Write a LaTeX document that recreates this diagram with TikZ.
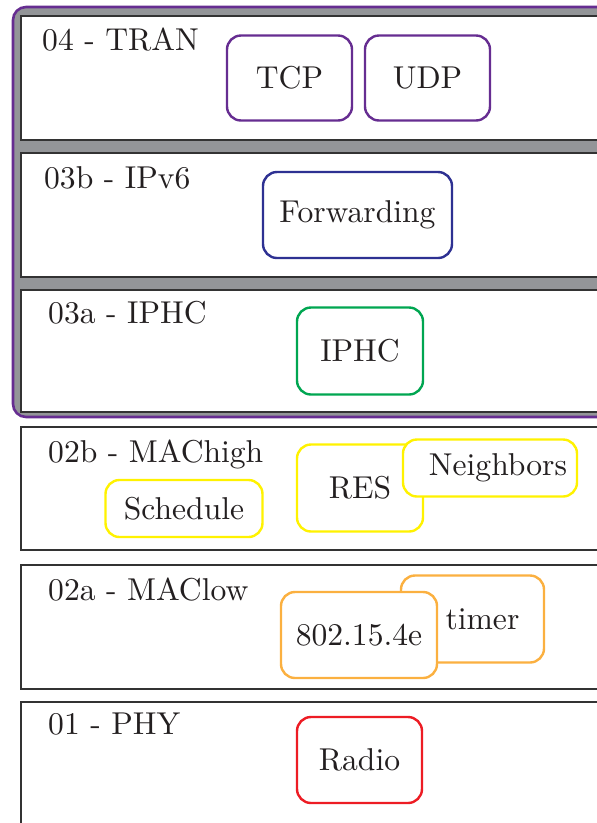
\documentclass[tikz,border=0pt]{standalone}
\usepackage{fontspec}
\setmainfont{lmroman10-regular}[Extension=.otf]
\definecolor{cpurple}{HTML}{662D91}
\definecolor{cblue}{HTML}{2E3192}
\definecolor{cgreen}{HTML}{00A651}
\definecolor{cyellow}{HTML}{FFF200}
\definecolor{corange}{HTML}{FBB040}
\definecolor{cred}{HTML}{ED1C24}
\definecolor{cgray}{HTML}{939598}
\definecolor{ctext}{HTML}{231F20}
\definecolor{cborder}{HTML}{333333}
\begin{document}
\begin{tikzpicture}[x=1pt,y=-1pt,
  every node/.style={text=ctext,font=\fontsize{31.6}{38}\selectfont},
  layerbox/.style={draw=cborder,line width=1.2pt,fill=white},
  layername/.style={anchor=base west,inner sep=0pt},
  block/.style={draw=#1,line width=2.4pt,fill=white,rounded corners=14pt,inner sep=0pt},
  frame/.style={draw=cpurple,line width=2.6pt,fill=cgray,rounded corners=13pt}]
\useasboundingbox (0,0) rectangle (597,823);
\clip (0,0) rectangle (597,823);
% purple frame around upper layers
\path[frame] (13,7) rectangle (640,417);
% layers
\path[layerbox] (21,16) rectangle (620,140);
\path[layerbox] (21,153) rectangle (620,277);
\path[layerbox] (21,290) rectangle (620,412);
\path[layerbox] (21,427) rectangle (620,550);
\path[layerbox] (21,565) rectangle (620,689);
\path[layerbox] (21,702) rectangle (620,840);
% layer names
\node[layername] (l04) at (42,50) {04 - TRAN};
\node[layername] (l03b) at (44,188) {03b - IPv6};
\node[layername] (l03a) at (48,323) {03a - IPHC};
\node[layername] (l02b) at (48,462) {02b - MAChigh};
\node[layername] (l02a) at (48,600) {02a - MAClow};
\node[layername] (l01) at (48,734) {01 - PHY};
% blocks
\node[block=cpurple,minimum width=125pt,minimum height=85pt] (tcp) at (289.5,78) {TCP};
\node[block=cpurple,minimum width=125pt,minimum height=85pt] (udp) at (427.5,78) {UDP};
\node[block=cblue,minimum width=189pt,minimum height=86pt] (fwd) at (357.5,215) {Forwarding};
\node[block=cgreen,minimum width=126pt,minimum height=87pt] (iphc) at (360,351) {IPHC};
\node[block=cyellow,minimum width=126pt,minimum height=87pt] (res) at (360,488) {RES};
\node[block=cyellow,minimum width=174pt,minimum height=57pt] (nb) at (490,468) {\hspace*{16pt}Neighbors};
\node[block=cyellow,minimum width=157pt,minimum height=57pt] (sched) at (184,508.5) {Schedule};
\node[block=corange,minimum width=143pt,minimum height=87pt] (timer) at (472.5,619) {\hspace*{20pt}timer};
\node[block=corange,minimum width=156pt,minimum height=86pt] (mac) at (359,635) {802.15.4e};
\node[block=cred,minimum width=125pt,minimum height=86pt] (radio) at (359.5,760) {Radio};
\end{tikzpicture}
\end{document}
